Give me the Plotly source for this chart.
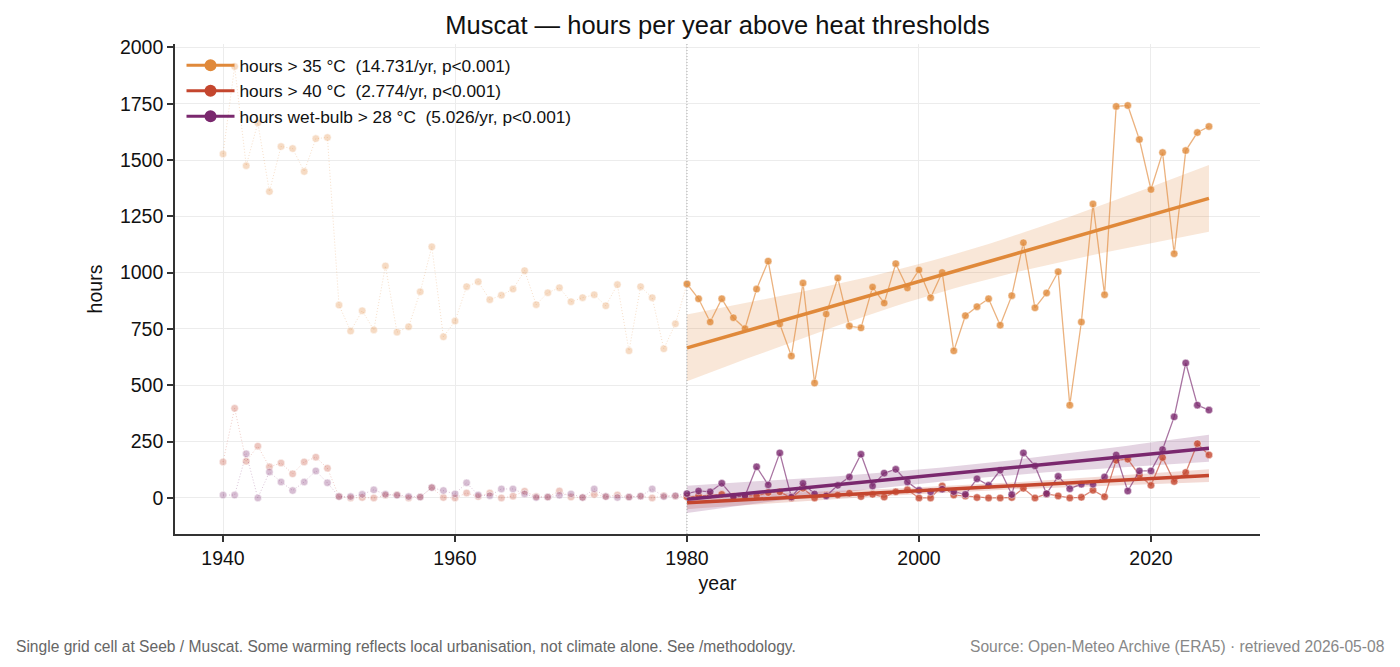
import numpy as np
import plotly.graph_objects as go

years = list(range(1940, 2026))

hours_35 = [1527, 1915, 1475, 1665, 1360, 1560, 1551, 1449, 1595, 1600,
            856, 741, 831, 746, 1030, 736, 760, 915, 1115, 715,
            785, 938, 960, 880, 900, 927, 1009, 858, 911, 933,
            871, 889, 902, 853, 947, 653, 938, 889, 662, 773,
            950, 884, 781, 884, 800, 752, 927, 1051, 772, 630,
            954, 510, 816, 976, 763, 755, 936, 865, 1040, 932,
            1012, 889, 1001, 653, 809, 849, 884, 767, 898, 1133,
            844, 910, 1004, 412, 781, 1305, 902, 1738, 1742, 1591,
            1369, 1533, 1084, 1542, 1622, 1649]

hours_40 = [160, 398, 163, 230, 138, 155, 107, 160, 181, 132,
            6, 0, 2, 0, 12, 14, 0, 4, 46, 2,
            0, 22, 6, 22, 0, 8, 30, 6, 4, 31,
            4, 2, 15, 6, 13, 4, 8, 0, 10, 8,
            5, 10, 12, 16, 8, 10, 9, 24, 27, 0,
            43, 0, 13, 13, 21, 6, 16, 4, 27, 36,
            0, 0, 53, 13, 9, 2, 0, 0, 2, 43,
            0, 18, 9, 0, 3, 34, 5, 167, 172, 101,
            56, 179, 73, 113, 241, 191]

hours_wb28 = [13, 13, 196, 0, 115, 71, 33, 71, 120, 67,
              6, 6, 16, 36, 16, 12, 6, 4, 46, 33,
              18, 67, 13, 10, 40, 40, 18, 2, 4, 12,
              18, 2, 40, 6, 2, 4, 8, 40, 6, 10,
              19, 31, 27, 65, 4, 9, 138, 58, 200, 4,
              65, 18, 9, 56, 93, 194, 53, 110, 127, 71,
              34, 27, 39, 28, 16, 85, 56, 123, 15, 200,
              142, 19, 96, 41, 61, 61, 93, 191, 31, 120,
              120, 215, 360, 599, 412, 390]

series_names = ["hours > 35 °C  (14.731/yr, p<0.001)",
                "hours > 40 °C  (2.774/yr, p<0.001)",
                "hours wet-bulb > 28 °C  (5.026/yr, p<0.001)"]
series_values = [hours_35, hours_40, hours_wb28]
colors = [(224, 137, 58), (196, 70, 46), (122, 40, 110)]

trend_start = 1980
x_ticks = [1940, 1960, 1980, 2000, 2020]
y_ticks = [0, 250, 500, 750, 1000, 1250, 1500, 1750, 2000]


def rgba(c, a):
    return "rgba(%d,%d,%d,%.3f)" % (c[0], c[1], c[2], a)


yr = np.array(years, dtype=float)
fig = go.Figure()

fits = []
for vals, col in zip(series_values, colors):
    v = np.array(vals, dtype=float)
    m = yr >= trend_start
    xs, ys = yr[m], v[m]
    n = len(xs)
    b, a = np.polyfit(xs, ys, 1)
    pred = a + b * xs
    s = np.sqrt(np.sum((ys - pred) ** 2) / (n - 2))
    sxx = np.sum((xs - xs.mean()) ** 2)
    hw = 2.015 * s * np.sqrt(1.0 / n + (xs - xs.mean()) ** 2 / sxx)
    fits.append((xs, pred, hw))
    fig.add_trace(go.Scatter(
        x=np.concatenate([xs, xs[::-1]]),
        y=np.concatenate([pred + hw, (pred - hw)[::-1]]),
        fill="toself", fillcolor=rgba(col, 0.2), line=dict(width=0),
        mode="lines", hoverinfo="skip", showlegend=False))

for vals, col in zip(series_values, colors):
    v = np.array(vals, dtype=float)
    pre = yr <= trend_start
    post = yr >= trend_start
    fig.add_trace(go.Scatter(
        x=yr[pre], y=v[pre], mode="lines+markers",
        line=dict(color=rgba(col, 0.28), width=1, dash="1px,2px"),
        marker=dict(size=7.5, color=rgba(col, 0.3),
                    line=dict(color="rgba(255,255,255,0.5)", width=1)),
        showlegend=False))
    fig.add_trace(go.Scatter(
        x=yr[post], y=v[post], mode="lines+markers",
        line=dict(color=rgba(col, 0.65), width=1.3),
        marker=dict(size=7.5, color=rgba(col, 0.8),
                    line=dict(color="rgba(255,255,255,0.45)", width=1)),
        showlegend=False))

for (xs, pred, hw), col in zip(fits, colors):
    fig.add_trace(go.Scatter(
        x=[xs[0], xs[-1]], y=[pred[0], pred[-1]], mode="lines",
        line=dict(color=rgba(col, 1), width=3.5), showlegend=False,
        hoverinfo="skip"))

for name, col in zip(series_names, colors):
    fig.add_trace(go.Scatter(
        x=[None], y=[None], mode="lines+markers", name=name,
        line=dict(color=rgba(col, 1), width=3),
        marker=dict(size=12, color=rgba(col, 1))))

fig.add_shape(type="line", xref="x", yref="paper", x0=trend_start, x1=trend_start,
              y0=0, y1=1, line=dict(color="#9a9a9a", width=0.8, dash="1px,2px"))

fig.update_layout(
    width=1400, height=667,
    margin=dict(l=175, r=140, t=44, b=133),
    paper_bgcolor="white", plot_bgcolor="white",
    font=dict(family="Liberation Sans, Arial, sans-serif", color="#111"),
    title=dict(text="Muscat — hours per year above heat thresholds",
               x=0.5125, xanchor="center", y=1 - 25 / 667, yanchor="middle",
               yref="container", font=dict(size=25.5, color="#111")),
    legend=dict(x=0.006, y=0.993, xanchor="left", yanchor="top",
                bgcolor="rgba(0,0,0,0)", font=dict(size=17.3, color="#111"),
                tracegroupgap=0, itemwidth=48),
    showlegend=True,
)
fig.update_xaxes(
    range=[1935.86, 2029.4], tickvals=x_ticks, ticktext=[str(t) for t in x_ticks],
    showline=True, linecolor="#333", linewidth=1.6, ticks="outside", ticklen=6,
    tickwidth=1.6, tickcolor="#333", showgrid=True, gridcolor="#ececec", gridwidth=1,
    zeroline=False, tickfont=dict(size=19.5, color="#111"),
    title=dict(text="year", font=dict(size=19.5, color="#111"), standoff=8))
fig.update_yaxes(
    range=[-160, 2015], tickvals=y_ticks, ticktext=[str(t) for t in y_ticks],
    showline=True, linecolor="#333", linewidth=1.6, ticks="outside", ticklen=6,
    tickwidth=1.6, tickcolor="#333", showgrid=True, gridcolor="#ececec", gridwidth=1,
    zeroline=False, tickfont=dict(size=19.5, color="#111"),
    title=dict(text="hours", font=dict(size=19.5, color="#111"), standoff=12))

fig.add_annotation(
    text="Single grid cell at Seeb / Muscat. Some warming reflects local urbanisation, not climate alone. See /methodology.",
    xref="paper", yref="paper", x=(14 - 175) / 1085, y=(534 - 646) / 490,
    xanchor="left", yanchor="middle", showarrow=False,
    font=dict(size=15.6, color="#666"))
fig.add_annotation(
    text="Source: Open-Meteo Archive (ERA5) · retrieved 2026-05-08",
    xref="paper", yref="paper", x=(1386 - 175) / 1085, y=(534 - 646) / 490,
    xanchor="right", yanchor="middle", showarrow=False,
    font=dict(size=15.6, color="#888"))

fig.write_html("out.html")
